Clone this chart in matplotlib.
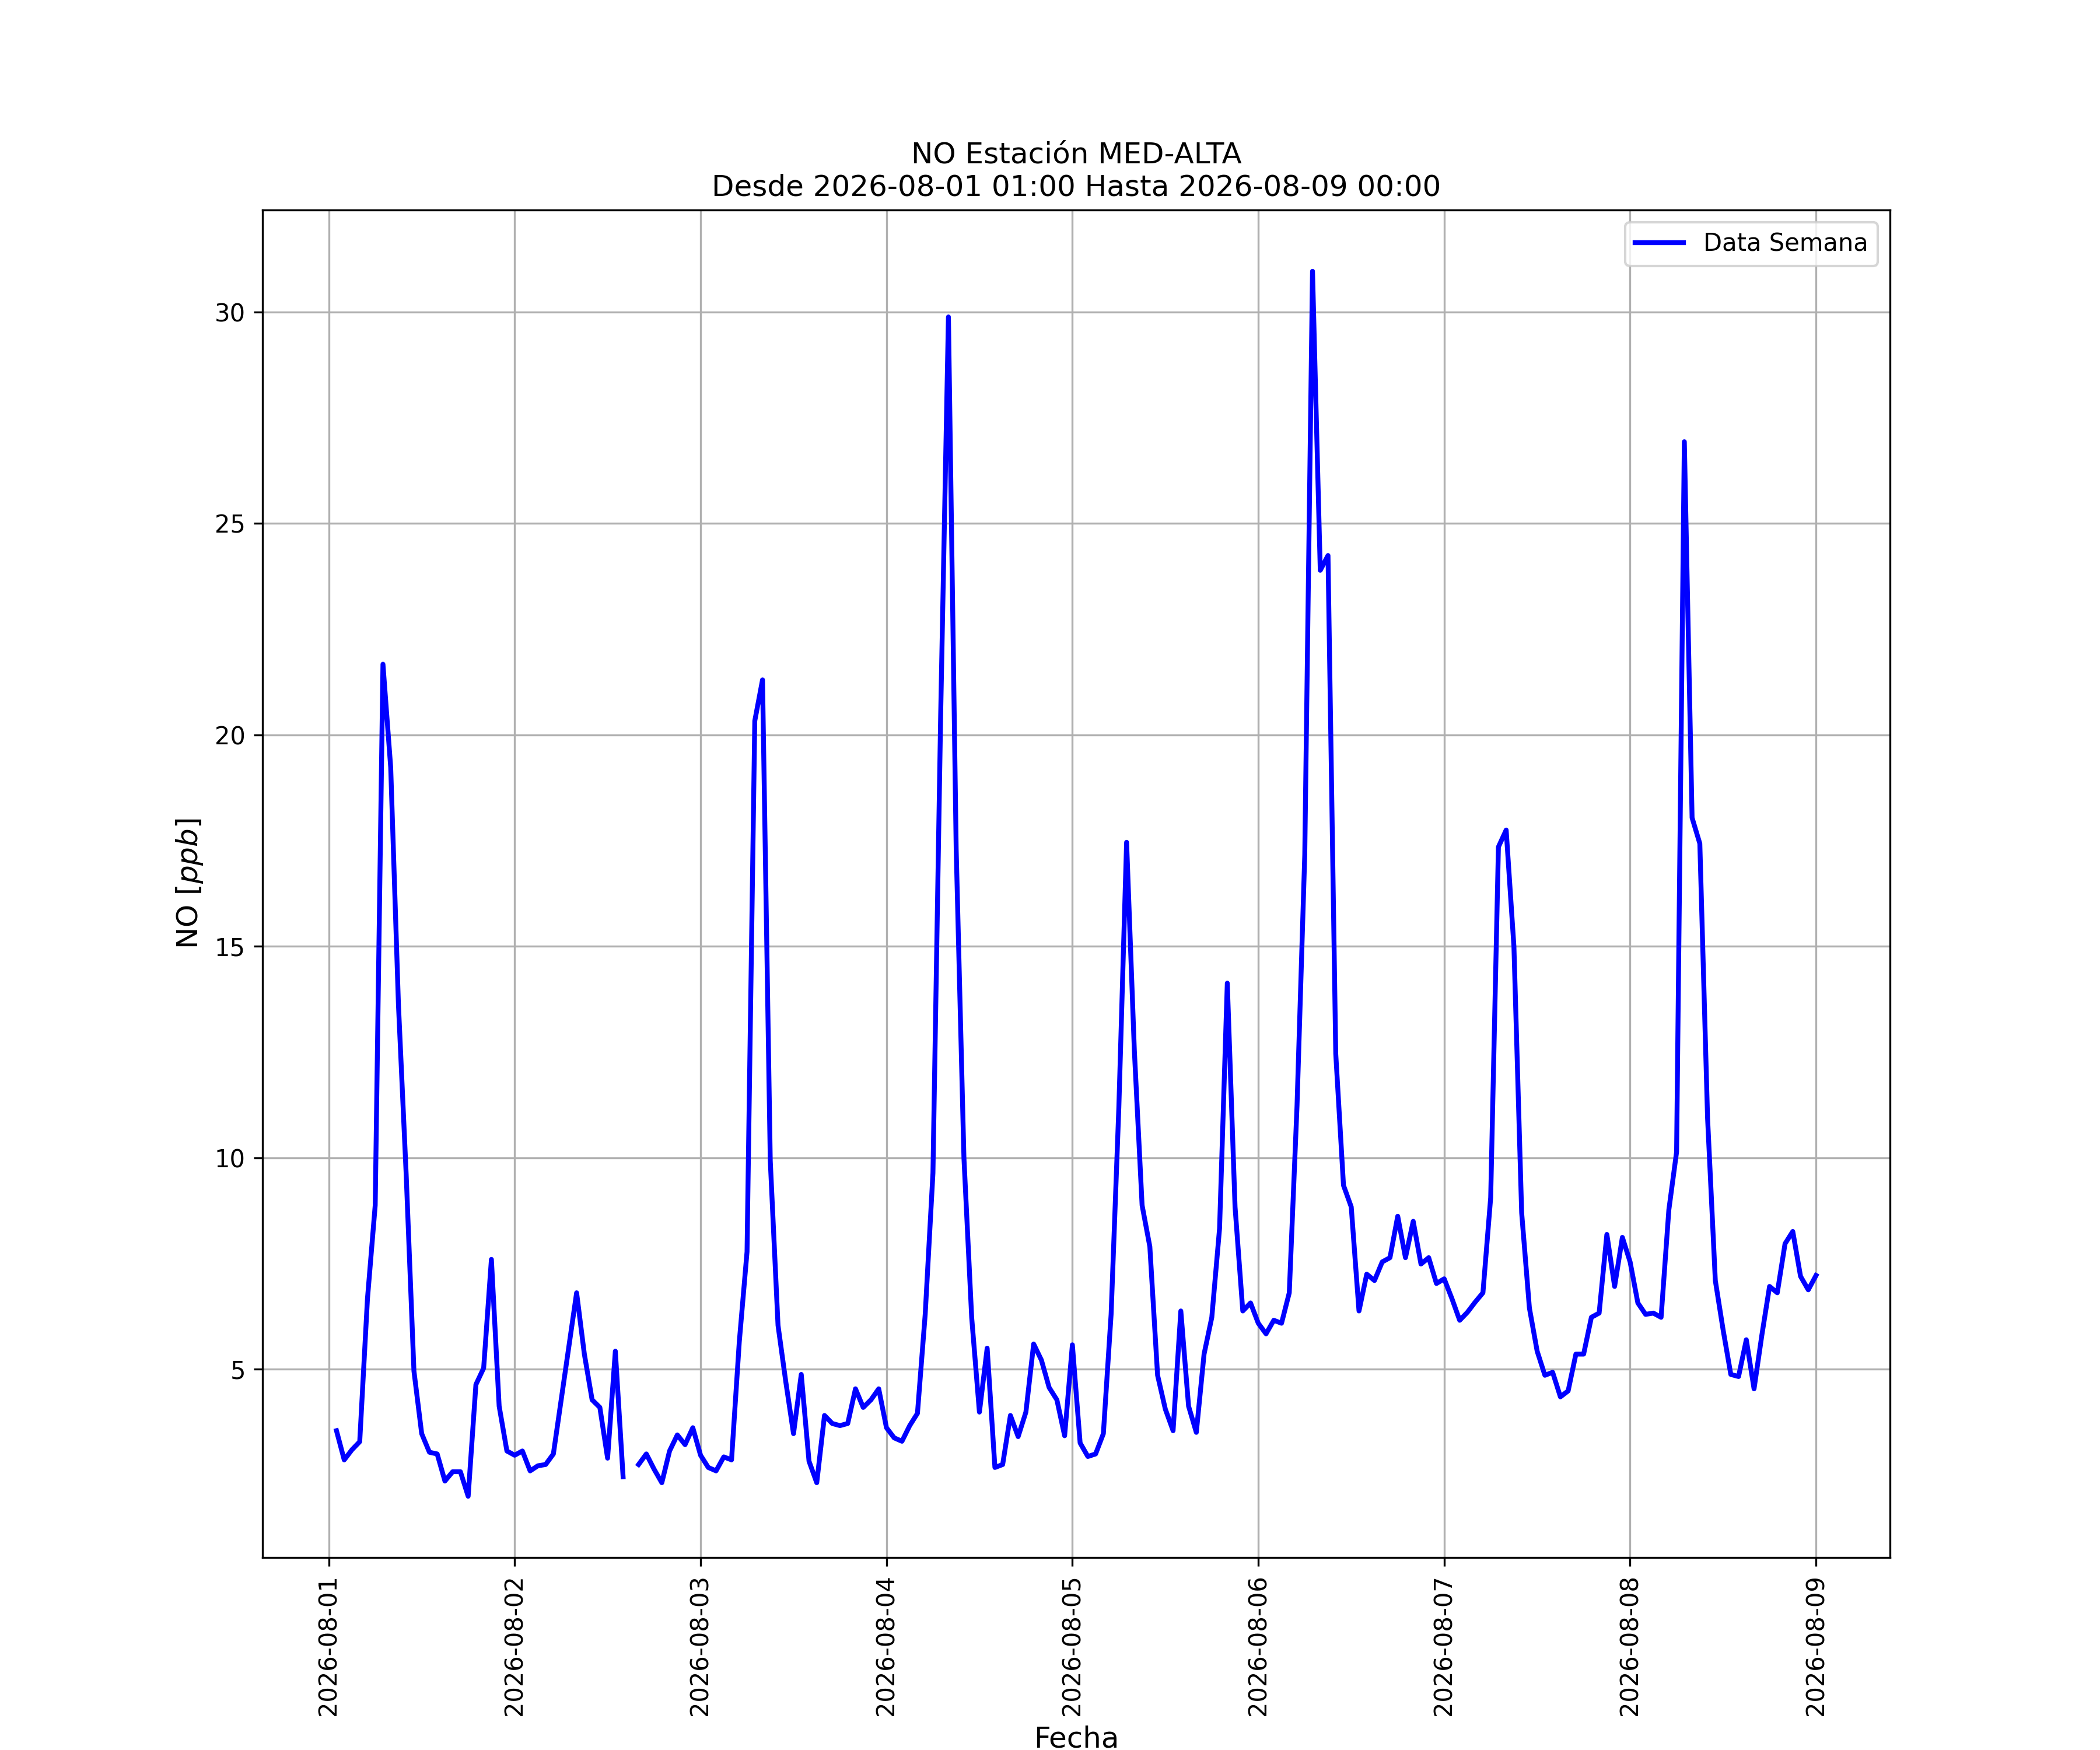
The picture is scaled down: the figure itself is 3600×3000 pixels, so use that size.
import numpy as np
import pandas as pd
import matplotlib
matplotlib.use('Agg')
import matplotlib.pyplot as plt
import matplotlib.dates as mdates

# hourly NO values, 2026-08-01 01:00 .. 2026-08-09 00:00
dia1 = [3.55, 2.86, 3.1, 3.29, 6.67, 8.88, 21.67, 19.23, 13.62, 9.6, 4.96, 3.48,
        3.04, 3.0, 2.36, 2.58, 2.58, 2.0, 4.64, 5.03, 7.6, 4.13, 3.07, 2.97]
dia2 = [3.07, 2.6, 2.72, 2.75, 3.0, 4.27, 5.53, 6.81, 5.36, 4.28, 4.1, 2.9,
        5.43, 2.46, np.nan, 2.75, 3.0, 2.64, 2.32, 3.07, 3.45, 3.22, 3.62, 2.97]
dia3 = [2.68, 2.6, 2.93, 2.86, 5.65, 7.78, 20.33, 21.3, 9.93, 6.04, 4.71, 3.48,
        4.88, 2.83, 2.32, 3.91, 3.72, 3.67, 3.72, 4.54, 4.1, 4.28, 4.54, 3.62]
dia4 = [3.38, 3.3, 3.67, 3.96, 6.3, 9.64, 20.5, 29.88, 17.3, 10.0, 6.23, 3.99,
        5.5, 2.68, 2.75, 3.91, 3.41, 3.99, 5.6, 5.22, 4.57, 4.28, 3.43, 5.58]
dia5 = [3.26, 2.94, 3.0, 3.48, 6.3, 11.2, 17.46, 12.54, 8.88, 7.9, 4.86, 4.06,
        3.55, 6.38, 4.13, 3.51, 5.36, 6.23, 8.33, 14.13, 8.84, 6.38, 6.57, 6.09]
dia6 = [5.84, 6.16, 6.09, 6.81, 11.23, 17.17, 30.96, 23.89, 24.24, 12.46, 9.35, 8.84,
        6.38, 7.25, 7.1, 7.54, 7.64, 8.62, 7.64, 8.5, 7.49, 7.64, 7.03, 7.14]
dia7 = [6.67, 6.16, 6.35, 6.59, 6.81, 9.06, 17.35, 17.75, 15.0, 8.7, 6.45, 5.43,
        4.86, 4.93, 4.35, 4.49, 5.36, 5.36, 6.23, 6.33, 8.19, 6.96, 8.12, 7.54]
dia8 = [6.57, 6.3, 6.33, 6.23, 8.77, 10.14, 26.93, 18.04, 17.43, 10.94, 7.1, 5.94,
        4.88, 4.83, 5.7, 4.54, 5.8, 6.96, 6.81, 7.97, 8.26, 7.2, 6.88, 7.22]

valores = dia1 + dia2 + dia3 + dia4 + dia5 + dia6 + dia7 + dia8
fechas = pd.date_range('2026-08-01 01:00', '2026-08-09 00:00', freq='h')

estacion = 'MED-ALTA'
desde = '2026-08-01 01:00'
hasta = '2026-08-09 00:00'

fig = plt.figure(figsize=(12, 10), dpi=300)
ax = fig.add_subplot(111)
ax.plot(fechas, valores, color='blue', linewidth=2, label='Data Semana')
ax.set_title(f'NO Estación {estacion}\nDesde {desde} Hasta {hasta}', fontsize=12)
ax.set_xlabel('Fecha', fontsize=12)
ax.set_ylabel('NO [$ppb$]', fontsize=12)
ax.xaxis.set_major_locator(mdates.DayLocator())
ax.xaxis.set_major_formatter(mdates.DateFormatter('%Y-%m-%d'))
plt.xticks(rotation=90)
ax.grid(True)
ax.legend(loc='upper right')
fig.savefig('out.png', dpi=300)
